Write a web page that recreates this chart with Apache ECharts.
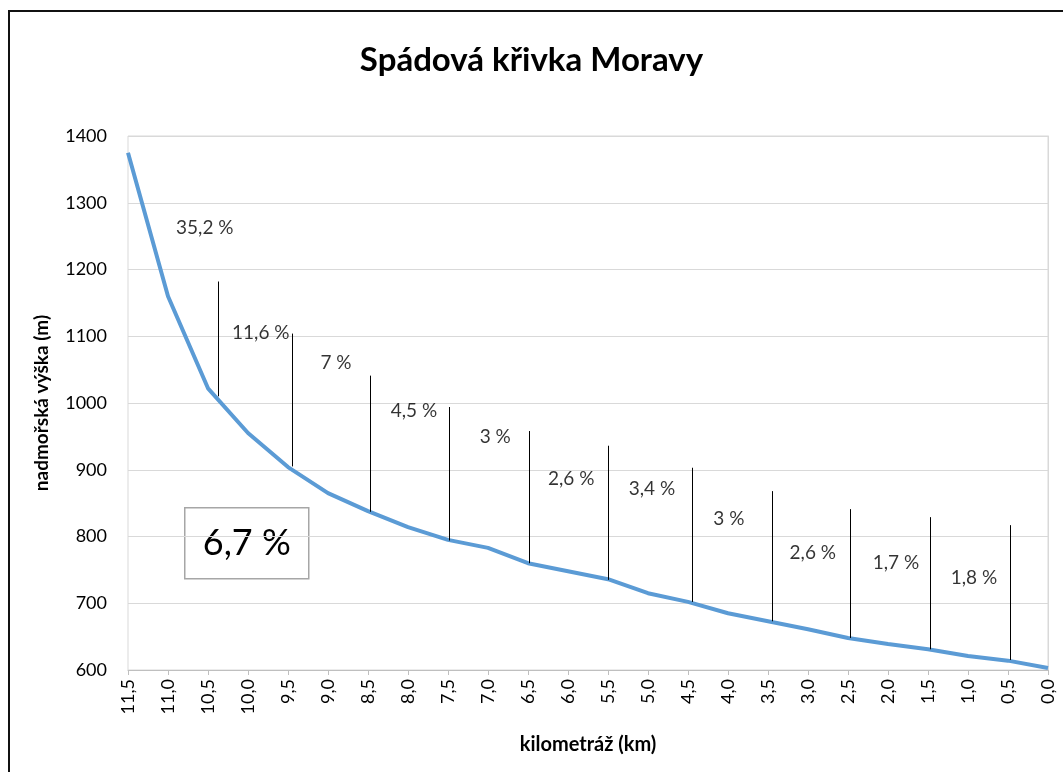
<!DOCTYPE html>
<html>
<head>
<meta charset="utf-8">
<script src="https://cdn.jsdelivr.net/npm/echarts@6/dist/echarts.min.js"></script>
<style>
    html, body { margin: 0; padding: 0; background: #fff; }
    #chart { width: 1063px; height: 772px; }
</style>
</head>
<body>
<div id="chart"></div>
<script>
// profile of the river: distance from mouth (km) and elevation (m)
const km = [11.5, 11.0, 10.5, 10.0, 9.5, 9.0, 8.5, 8.0, 7.5, 7.0, 6.5, 6.0,
    5.5, 5.0, 4.5, 4.0, 3.5, 3.0, 2.5, 2.0, 1.5, 1.0, 0.5, 0.0];
const elevation = [1375, 1160, 1022, 955, 904, 865, 838, 814, 795, 783, 760, 748,
    736, 715, 702, 685, 673, 661, 648, 639, 631, 621, 614, 603];

// hand drawn vertical markers
const markerKm = [10.375, 9.45, 8.475, 7.49, 6.49, 5.5, 4.45, 3.45, 2.475, 1.475, 0.475];
const markerBottom = [1010, 905, 837, 794, 760, 735, 702, 673, 648, 631, 615];
const markerTop = [1182, 1104, 1041, 994, 958, 936, 903, 868, 841, 829, 817];

// slope labels
const slopeText = ['35,2 %', '11,6 %', '7 %', '4,5 %', '3 %', '2,6 %', '3,4 %', '3 %', '2,6 %', '1,7 %', '1,8 %'];
const slopeKm = [10.54, 9.84, 8.9, 7.925, 6.91, 5.96, 4.95, 3.99, 2.94, 1.9, 0.925];
const slopeElev = [1263, 1105, 1060, 988, 950, 886, 871, 826, 775, 760, 738];

const averageSlope = '6,7 %';

const font = 'Lato, "Open Sans", sans-serif';

const chart = echarts.init(document.getElementById('chart'));

const lineData = km.map(function (k, i) { return [k, elevation[i]]; });
const markerData = markerKm.map(function (k, i) {
    return [{ coord: [k, markerBottom[i]] }, { coord: [k, markerTop[i]] }];
});
const labelData = slopeKm.map(function (k, i) {
    return { name: slopeText[i], value: [k, slopeElev[i]] };
});

chart.setOption({
    animation: false,
    title: {
        text: 'Spádová křivka Moravy',
        left: 'center',
        top: 39,
        textStyle: { fontFamily: font, fontSize: 33, fontWeight: 'bold', color: '#000' }
    },
    grid: {
        left: 128,
        right: 15,
        top: 136,
        bottom: 102,
        show: true,
        borderColor: '#d9d9d9',
        borderWidth: 1
    },
    xAxis: {
        type: 'value',
        inverse: true,
        min: 0,
        max: 11.5,
        interval: 0.5,
        name: 'kilometráž (km)',
        nameLocation: 'middle',
        nameGap: 65,
        nameTextStyle: { fontFamily: font, fontSize: 20, fontWeight: 'bold', color: '#000' },
        axisLine: { lineStyle: { color: '#bfbfbf' } },
        axisTick: { show: true, length: 5, lineStyle: { color: '#bfbfbf' } },
        splitLine: { show: false },
        axisLabel: {
            rotate: 90,
            fontFamily: font,
            fontSize: 18,
            color: '#000',
            margin: 9,
            formatter: function (v) { return v.toFixed(1).replace('.', ','); }
        }
    },
    yAxis: {
        type: 'value',
        min: 600,
        max: 1400,
        interval: 100,
        name: 'nadmořská výška (m)',
        nameLocation: 'middle',
        nameGap: 77,
        nameTextStyle: { fontFamily: font, fontSize: 19, fontWeight: 'bold', color: '#000' },
        axisLine: { show: true, lineStyle: { color: '#d9d9d9' } },
        axisTick: { show: false },
        splitLine: { lineStyle: { color: '#d9d9d9' } },
        axisLabel: {
            fontFamily: font,
            fontSize: 18,
            color: '#000',
            margin: 21,
            formatter: function (v) { return String(v); }
        }
    },
    series: [
        {
            type: 'line',
            data: lineData,
            showSymbol: false,
            lineStyle: { color: '#5b9bd5', width: 4 },
            z: 3,
            markLine: {
                silent: true,
                symbol: 'none',
                label: { show: false },
                lineStyle: { color: '#000', width: 1, type: 'solid' },
                data: markerData
            }
        },
        {
            type: 'scatter',
            data: labelData,
            symbolSize: 0,
            label: {
                show: true,
                position: 'inside',
                formatter: '{b}',
                fontFamily: font,
                fontSize: 19,
                color: '#000'
            },
            z: 4
        }
    ],
    graphic: [
        {
            type: 'rect',
            shape: { x: 9, y: 11, width: 1200, height: 900 },
            style: { fill: 'none', stroke: '#111', lineWidth: 2 },
            z: 10
        },
        {
            type: 'group',
            left: 184,
            top: 507,
            z: 10,
            children: [
                {
                    type: 'rect',
                    shape: { width: 124, height: 71 },
                    style: { fill: '#fff', stroke: '#a6a6a6', lineWidth: 1.5 }
                },
                {
                    type: 'text',
                    x: 62,
                    y: 36,
                    style: {
                        text: averageSlope,
                        fontFamily: font,
                        fontSize: 36,
                        fill: '#000',
                        align: 'center',
                        verticalAlign: 'middle'
                    }
                }
            ]
        }
    ]
});
</script>
</body>
</html>
